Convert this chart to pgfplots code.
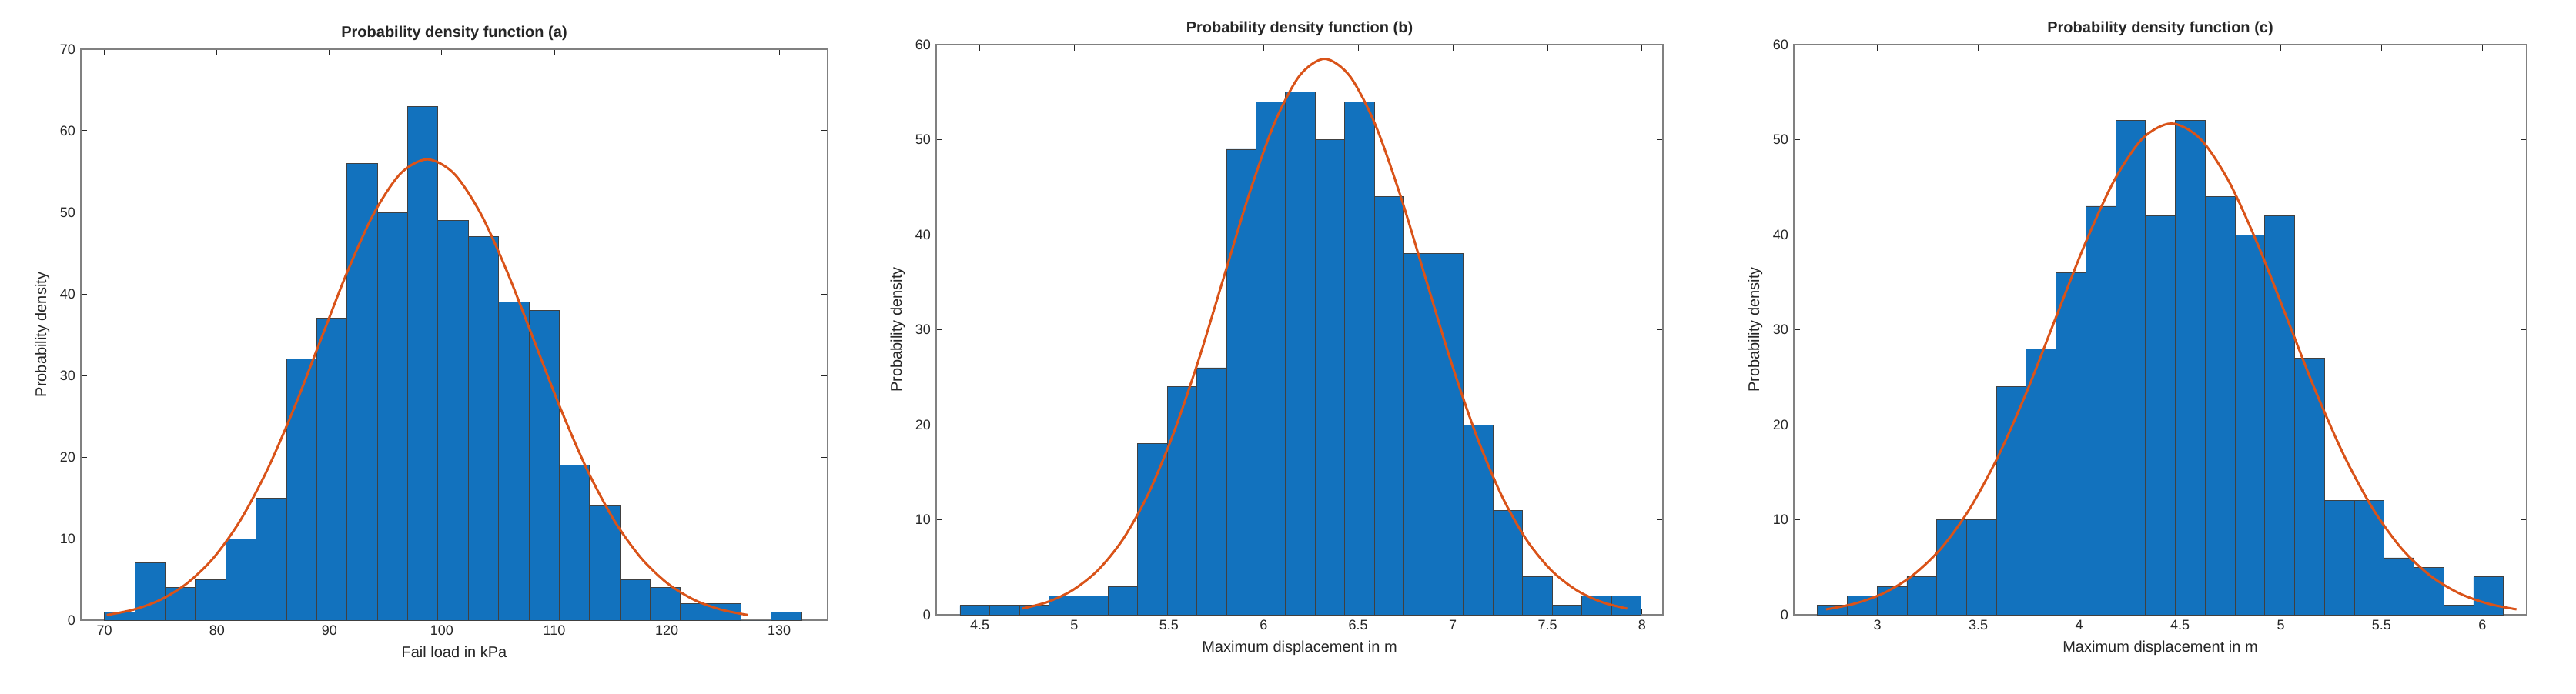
\documentclass[border=0pt]{standalone}
\usepackage{pgfplots}
\pgfplotsset{compat=1.18}
\usepackage{fontspec}
\setmainfont{Liberation Sans}
\definecolor{mblue}{RGB}{18,114,190}
\definecolor{morange}{RGB}{217,83,25}
\definecolor{axgray}{RGB}{128,128,128}
\definecolor{txt}{RGB}{38,38,38}
\pgfplotsset{
  mystyle/.style={
    scale only axis, anchor=south west,
    axis line style={axgray, line width=0.6pt},
    tick style={txt, line width=0.5pt}, major tick length=4pt,
    tick align=inside, xtick pos=both, ytick pos=both,
    ticklabel style={font=\fontsize{9}{10}\selectfont, text=txt},
    /pgf/number format/assume math mode=true,
    label style={font=\fontsize{10}{12}\selectfont, text=txt},
    title style={font=\bfseries\fontsize{10}{12}\selectfont, text=txt, yshift=-4pt},
    ylabel={Probability density},
    ymin=0,
  },
  bars/.style={ybar interval, fill=mblue, draw=black!75, line width=0.35pt},
  curve/.style={morange, line width=1.5pt, smooth, no marks},
}
\begin{document}
\begin{tikzpicture}
\path (0,0) rectangle (1673pt,450.5pt);
% ---------- (a)
\begin{axis}[mystyle, at={(52.5pt,47.5pt)}, width=485pt, height=371pt,
  xmin=67.9, xmax=134.3, ymax=70, xtick={70,80,...,130}, ytick={0,10,...,70},
  title={Probability density function (a)}, xlabel={Fail load in kPa}]
\addplot[bars] coordinates {(70,1) (72.695,7) (75.39,4) (78.085,5) (80.78,10) (83.475,15) (86.17,32) (88.865,37) (91.56,56) (94.255,50) (96.95,63) (99.645,49) (102.34,47) (105.035,39) (107.73,38) (110.425,19) (113.12,14) (115.815,5) (118.51,4) (121.205,2) (123.9,2) (126.595,0) (129.29,1) (131.985,1)};
\addplot[curve] coordinates {(70.2,0.63) (72.575,1.29) (74.95,2.48) (77.325,4.50) (79.7,7.64) (82.075,12.22) (84.45,18.35) (86.825,25.87) (89.2,34.27) (91.575,42.65) (93.95,49.86) (96.325,54.76) (98.7,56.5) (101.075,54.76) (103.45,49.86) (105.825,42.65) (108.2,34.27) (110.575,25.87) (112.95,18.35) (115.325,12.22) (117.7,7.64) (120.075,4.50) (122.45,2.48) (124.825,1.29) (127.2,0.63)};
\end{axis}
% ---------- (b)
\begin{axis}[mystyle, at={(608pt,51pt)}, width=472pt, height=370.5pt,
  xmin=4.27, xmax=8.11, ymax=60, xtick={4.5,5,...,8}, ytick={0,10,...,60},
  title={Probability density function (b)}, xlabel={Maximum displacement in m}]
\addplot[bars] coordinates {(4.396,1) (4.552,1) (4.709,1) (4.865,2) (5.022,2) (5.178,3) (5.334,18) (5.491,24) (5.647,26) (5.804,49) (5.960,54) (6.116,55) (6.273,50) (6.429,54) (6.586,44) (6.742,38) (6.898,38) (7.055,20) (7.211,11) (7.368,4) (7.524,1) (7.680,2) (7.837,2) (7.993,2)};
\addplot[curve] coordinates {(4.723,0.65) (4.856,1.33) (4.989,2.57) (5.123,4.66) (5.256,7.92) (5.389,12.65) (5.522,18.99) (5.656,26.78) (5.789,35.48) (5.922,44.16) (6.055,51.63) (6.189,56.70) (6.322,58.5) (6.455,56.70) (6.589,51.63) (6.722,44.16) (6.855,35.48) (6.988,26.78) (7.122,18.99) (7.255,12.65) (7.388,7.92) (7.521,4.66) (7.655,2.57) (7.788,1.33) (7.921,0.65)};
\node[anchor=north east, font=\fontsize{8}{9}\selectfont, text=txt] at (rel axis cs:1.01,0) [yshift=-15pt] {×10\textsuperscript{−3}};
\end{axis}
% ---------- (c)
\begin{axis}[mystyle, at={(1165pt,51pt)}, width=476pt, height=370.5pt,
  xmin=2.585, xmax=6.22, ymax=60, xtick={3,3.5,...,6}, ytick={0,10,...,60},
  title={Probability density function (c)}, xlabel={Maximum displacement in m}]
\addplot[bars] coordinates {(2.702,1) (2.850,2) (2.998,3) (3.146,4) (3.294,10) (3.442,10) (3.589,24) (3.737,28) (3.885,36) (4.033,43) (4.181,52) (4.329,42) (4.477,52) (4.625,44) (4.773,40) (4.921,42) (5.068,27) (5.216,12) (5.364,12) (5.512,6) (5.660,5) (5.808,1) (5.956,4) (6.104,4)};
\addplot[curve] coordinates {(2.745,0.57) (2.888,1.18) (3.030,2.27) (3.173,4.12) (3.316,7.00) (3.458,11.18) (3.601,16.79) (3.744,23.67) (3.886,31.36) (4.029,39.02) (4.172,45.63) (4.314,50.11) (4.457,51.7) (4.600,50.11) (4.742,45.63) (4.885,39.02) (5.028,31.36) (5.170,23.67) (5.313,16.79) (5.456,11.18) (5.598,7.00) (5.741,4.12) (5.884,2.27) (6.026,1.18) (6.169,0.57)};
\node[anchor=north east, font=\fontsize{8}{9}\selectfont, text=txt] at (rel axis cs:1.01,0) [yshift=-15pt] {×10\textsuperscript{−3}};
\end{axis}
\end{tikzpicture}
\end{document}
